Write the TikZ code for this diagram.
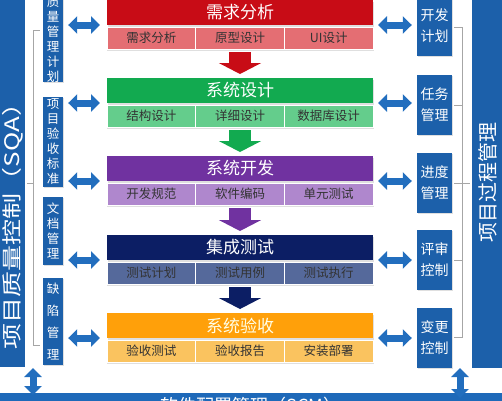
\documentclass[tikz,border=0pt]{standalone}
\usepackage{fontspec}
\setmainfont{Noto Sans CJK SC}
\usetikzlibrary{positioning, arrows.meta, shadows, calc}

\definecolor{sqablue}{RGB}{28,96,170}
\definecolor{scmblue}{RGB}{30,105,185}
\definecolor{arrblue}{RGB}{34,110,190}
\definecolor{reqred}{RGB}{200,12,22}
\definecolor{reqredl}{RGB}{228,110,115}
\definecolor{desgreen}{RGB}{18,170,80}
\definecolor{desgreenl}{RGB}{100,205,140}
\definecolor{devpurple}{RGB}{112,50,160}
\definecolor{devpurplel}{RGB}{175,135,205}
\definecolor{tstnavy}{RGB}{12,30,100}
\definecolor{tstnavyl}{RGB}{85,105,155}
\definecolor{accorange}{RGB}{255,160,10}
\definecolor{accorangel}{RGB}{250,195,95}

\begin{document}
\begin{tikzpicture}[x=1pt, y=-1pt, node distance=2pt]
  \tikzstyle{head}=[minimum width=266pt, minimum height=25pt, inner sep=0pt, outer sep=0pt, text=white, font=\fontsize{17}{20}\selectfont, drop shadow={shadow xshift=0.5pt, shadow yshift=-2pt, opacity=0.25}]
  \tikzstyle{cell}=[draw=white, line width=0.8pt, minimum width=88.67pt, minimum height=22pt, inner sep=0pt, outer sep=0pt, text=black!80, font=\fontsize{12.5}{15}\selectfont, drop shadow={shadow xshift=0.5pt, shadow yshift=-2pt, opacity=0.25}]
  \tikzstyle{sidel}=[fill=sqablue, text=white, inner sep=0pt, align=center, minimum width=20pt, font=\fontsize{12.5}{15}\selectfont, drop shadow={shadow xshift=1pt, shadow yshift=-1pt, opacity=0.25}]
  \tikzstyle{sider}=[fill=sqablue, text=white, inner sep=0pt, align=center, minimum width=35pt, minimum height=60pt, font=\fontsize{14}{21}\selectfont, drop shadow={shadow xshift=1pt, shadow yshift=-1pt, opacity=0.25}]
  \tikzstyle{bar}=[fill=sqablue, inner sep=0pt, outer sep=0pt]
  \tikzstyle{flow}=[line width=22pt, -{Triangle[width=42pt, length=11pt]}]
  \tikzstyle{link}=[arrblue, line width=7pt, {Triangle[width=17pt, length=9pt]}-{Triangle[width=17pt, length=9pt]}]
  \tikzstyle{brace}=[gray!70, line width=0.8pt]

  \useasboundingbox (0,0) rectangle (502,400);

  % side bars
  \node[bar, minimum width=30pt, minimum height=372pt] (sqa) at (10,181) {};
  \node[rotate=90, xscale=1.3, text=white, font=\fontsize{20}{24}\selectfont] (sqatext) at (12.5,220) {项目质量控制（SQA）};
  \node[bar, minimum width=35pt, minimum height=373pt] (pm) at (489.5,181.5) {};
  \node[rotate=90, text=white, font=\fontsize{20}{24}\selectfont] (pmtext) at (488,182) {项目过程管理};
  \node[bar, fill=scmblue, minimum width=510pt, minimum height=26pt, text=white, font=\fontsize{18}{22}\selectfont] (scm) at (251,406) {软件配置管理（SCM）};

  % quality boxes
  \node[sidel, minimum height=86pt] (lb1) at (53,39) {质\\量\\管\\理\\计\\划};
  \node[sidel, minimum height=90pt] (lb2) at (53,142) {项\\目\\验\\收\\标\\准};
  \node[sidel, minimum height=68pt] (lb3) at (53,231) {文\\档\\管\\理};
  \node[sidel, minimum height=87pt, font=\fontsize{12.5}{22}\selectfont] (lb4) at (53,321.5) {缺\\陷\\管\\理};

  % process boxes
  \node[sider] (rb1) at (434.5,26) {开发\\计划};
  \node[sider] (rb2) at (434.5,105) {任务\\管理};
  \node[sider] (rb3) at (434.5,182.5) {进度\\管理};
  \node[sider] (rb4) at (434.5,260) {评审\\控制};
  \node[sider] (rb5) at (434.5,338) {变更\\控制};

  % stages
  \node[head, fill=reqred] (head1) at (240,12.5) {需求分析};
  \node[cell, fill=reqredl, below=of head1] (c12) {原型设计};
  \node[cell, fill=reqredl, left=0pt of c12] (c11) {需求分析};
  \node[cell, fill=reqredl, right=0pt of c12] (c13) {UI设计};

  \node[head, fill=desgreen] (head2) at (240,90.5) {系统设计};
  \node[cell, fill=desgreenl, below=of head2] (c22) {详细设计};
  \node[cell, fill=desgreenl, left=0pt of c22] (c21) {结构设计};
  \node[cell, fill=desgreenl, right=0pt of c22] (c23) {数据库设计};

  \node[head, fill=devpurple] (head3) at (240,168.5) {系统开发};
  \node[cell, fill=devpurplel, below=of head3] (c32) {软件编码};
  \node[cell, fill=devpurplel, left=0pt of c32] (c31) {开发规范};
  \node[cell, fill=devpurplel, right=0pt of c32] (c33) {单元测试};

  \node[head, fill=tstnavy] (head4) at (240,247.5) {集成测试};
  \node[cell, fill=tstnavyl, below=of head4] (c42) {测试用例};
  \node[cell, fill=tstnavyl, left=0pt of c42] (c41) {测试计划};
  \node[cell, fill=tstnavyl, right=0pt of c42] (c43) {测试执行};

  \node[head, fill=accorange, text=yellow!10] (head5) at (240,325.5) {系统验收};
  \node[cell, fill=accorangel, below=of head5] (c52) {验收报告};
  \node[cell, fill=accorangel, left=0pt of c52] (c51) {验收测试};
  \node[cell, fill=accorangel, right=0pt of c52] (c53) {安装部署};

  % flow
  \draw[flow, reqred] ([yshift=-3pt]c12.south) -- ([yshift=4pt]head2.north);
  \draw[flow, desgreen] ([yshift=-3pt]c22.south) -- ([yshift=4pt]head3.north);
  \draw[flow, devpurple] ([yshift=-3pt]c32.south) -- ([yshift=4pt]head4.north);
  \draw[flow, tstnavy] ([yshift=-3pt]c42.south) -- ([yshift=4pt]head5.north);

  % links
  \draw[link, shorten <=7pt, shorten >=5pt] (head1.south west) -- (head1.south west -| lb1.east);
  \draw[link, shorten <=7pt, shorten >=5pt] (head2.south west) -- (head2.south west -| lb2.east);
  \draw[link, shorten <=7pt, shorten >=5pt] (head3.south west) -- (head3.south west -| lb3.east);
  \draw[link, shorten <=7pt, shorten >=5pt] (head4.south west) -- (head4.south west -| lb3.east);
  \draw[link, shorten <=7pt, shorten >=5pt] (head5.south west) -- (head5.south west -| lb4.east);
  \draw[link, shorten <=5pt, shorten >=5pt] (head1.south east) -- (head1.south east -| rb1.west);
  \draw[link, shorten <=5pt, shorten >=5pt] (head2.south east) -- (head2.south east -| rb2.west);
  \draw[link, shorten <=5pt, shorten >=5pt] (head3.south east) -- (head3.south east -| rb3.west);
  \draw[link, shorten <=5pt, shorten >=5pt] (head4.south east) -- (head4.south east -| rb4.west);
  \draw[link, shorten <=5pt, shorten >=5pt] (head5.south east) -- (head5.south east -| rb5.west);
  \draw[link] ($(sqa.south east)+(8,1)$) -- ($(sqa.south east |- scm.north)+(8,2)$);
  \draw[link] ($(pm.south west)+(-12,0)$) -- ($(pm.south west |- scm.north)+(-12,5)$);

  % brackets
  \draw[brace] (40,30) -- (33,30) -- (33,345) -- (40,345);
  \draw[brace] (33,183) -- (27,183);
  \draw[brace] (454,27) -- (462,27) -- (462,337) -- (454,337);
  \draw[brace] (454,105) -- (462,105);
  \draw[brace] (454,183) -- (470,183);
  \draw[brace] (454,260) -- (462,260);
\end{tikzpicture}
\end{document}
